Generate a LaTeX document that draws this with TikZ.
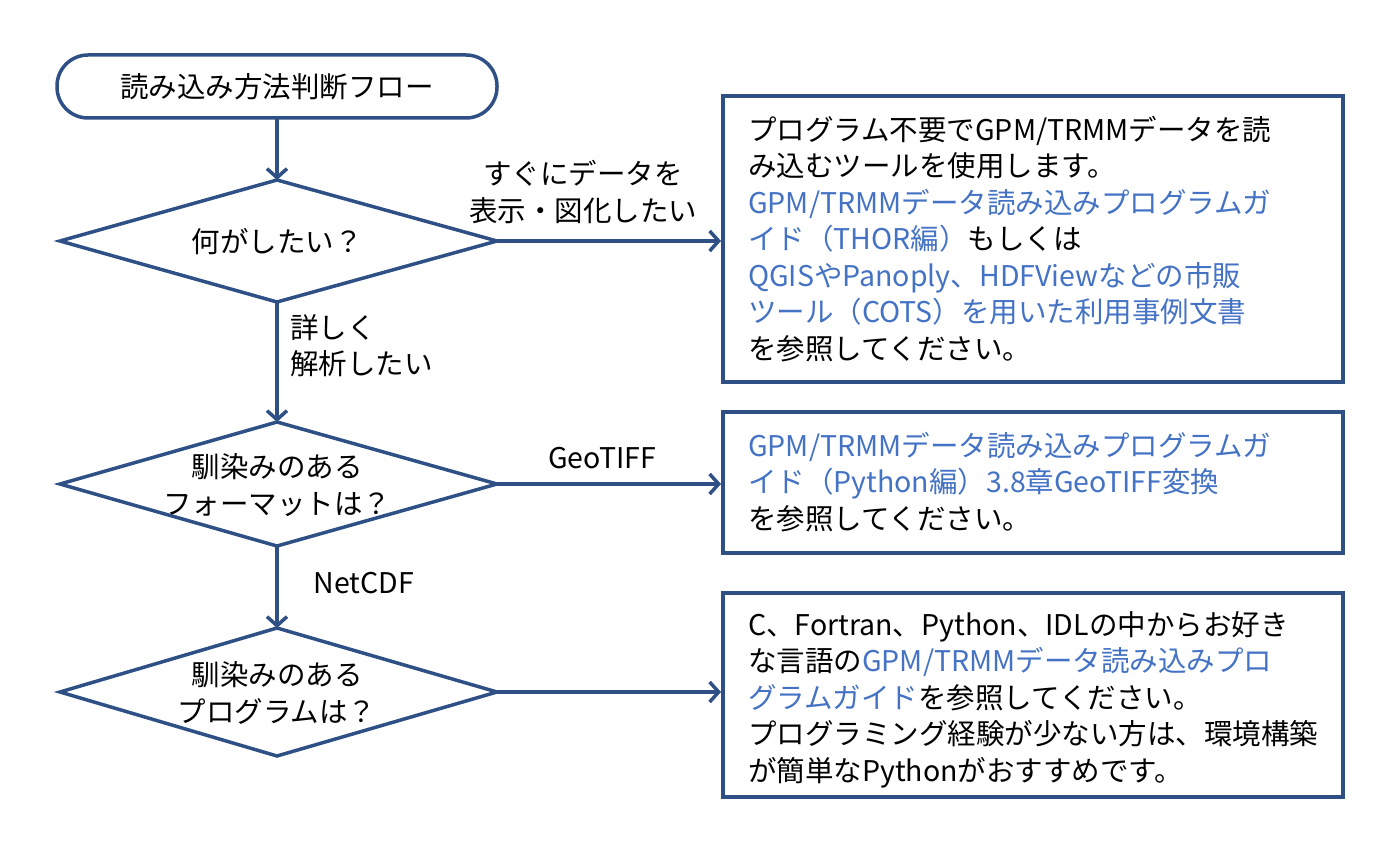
\documentclass[tikz,border=0pt]{standalone}
\usepackage{fontspec}
\setmainfont{Noto Sans CJK JP}
\usetikzlibrary{arrows.meta}
\definecolor{dk}{HTML}{2F5085}
\definecolor{lk}{HTML}{4472C4}
\tikzset{
  ln/.style={draw=dk,line width=3.5pt},
  arr/.style={ln,-{Straight Barb[length=9pt,width=20pt,line width=3.5pt]}},
  txt/.style={font=\fontsize{28.5}{36.5}\selectfont,align=left,inner sep=0},
  ctxt/.style={font=\fontsize{28.5}{37}\selectfont,align=center,inner sep=0}
}
\newcommand{\lkc}[1]{\textcolor{lk}{#1}}
\begin{document}
\begin{tikzpicture}[x=1pt,y=-1pt]
\useasboundingbox (0,0) rectangle (1400,850);
% shapes
\draw[ln,rounded corners=31pt] (57,55) rectangle (497,118);
\node[ctxt] (t) at (277,87) {読み込み方法判断フロー};
\draw[ln] (60,241) -- (277,180) -- (497,241) -- (277,302) -- cycle;
\node[ctxt] (d1) at (277,242) {何がしたい？};
\draw[ln] (60,484) -- (277,422) -- (497,484) -- (277,546) -- cycle;
\node[ctxt] (d2) at (277,485) {馴染みのある\\フォーマットは？};
\draw[ln] (60,692) -- (277,628) -- (497,692) -- (277,756) -- cycle;
\node[ctxt] (d3) at (277,693) {馴染みのある\\プログラムは？};
\draw[ln] (723,96) rectangle (1343,382);
\draw[ln] (723,412) rectangle (1343,553);
\draw[ln] (723,593) rectangle (1343,797);
\coordinate (tb) at (277,118);
\coordinate (d1t) at (277,180); \coordinate (d1b) at (277,302); \coordinate (d1r) at (497,241);
\coordinate (d2t) at (277,422); \coordinate (d2b) at (277,546); \coordinate (d2r) at (497,484);
\coordinate (d3t) at (277,628); \coordinate (d3r) at (497,692);
\coordinate (b1) at (721,241); \coordinate (b2) at (721,484); \coordinate (b3) at (721,692);
% arrows
\draw[arr] (tb) -- (d1t);
\draw[arr] (d1b) -- (d2t);
\draw[arr] (d2b) -- (d3t);
\draw[arr] (d1r) -- (b1);
\draw[arr] (d2r) -- (b2);
\draw[arr] (d3r) -- (b3);
% labels
\node[ctxt] (l1) at (583,192) {すぐにデータを\\表示・図化したい};
\node[txt,anchor=north west] (l2) at (290,314) {詳しく\\解析したい};
\node[ctxt] (l3) at (602,458) {GeoTIFF};
\node[ctxt] (l4) at (364,583) {NetCDF};
% box texts
\node[txt,anchor=north west] (x1) at (748,116) {プログラム不要でGPM/TRMMデータを読\\み込むツールを使用します。\\\lkc{GPM/TRMMデータ読み込みプログラムガ}\\\lkc{イド（THOR編）}もしくは\\\lkc{QGISやPanoply、HDFViewなどの市販}\\\lkc{ツール（COTS）を用いた利用事例文書}\\を参照してください。};
\node[txt,anchor=north west] (x2) at (748,432) {\lkc{GPM/TRMMデータ読み込みプログラムガ}\\\lkc{イド（Python編）3.8章GeoTIFF変換}\\を参照してください。};
\node[txt,anchor=north west] (x3) at (748,611) {C、Fortran、Python、IDLの中からお好き\\な言語の\lkc{GPM/TRMMデータ読み込みプロ}\\\lkc{グラムガイド}を参照してください。\\プログラミング経験が少ない方は、環境構築\\が簡単なPythonがおすすめです。};
\end{tikzpicture}
\end{document}
